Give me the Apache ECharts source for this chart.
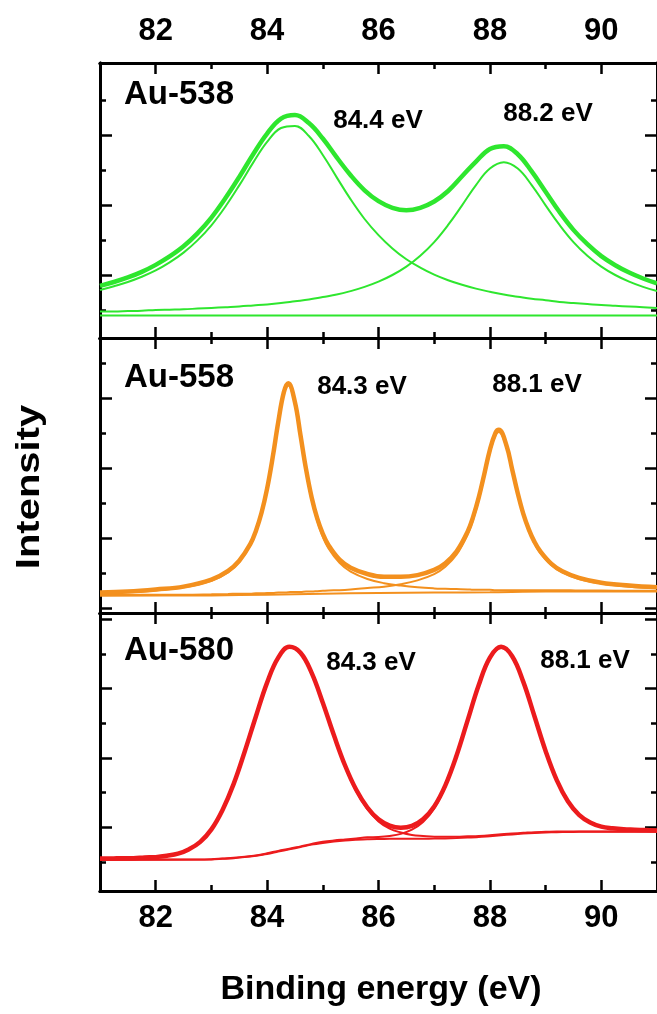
<!DOCTYPE html>
<html><head><meta charset="utf-8">
<script src="https://cdn.jsdelivr.net/npm/echarts@6/dist/echarts.min.js"></script>
<style>html,body{margin:0;padding:0;background:#fff}#c{width:657px;height:1014px}</style>
</head><body><div id="c"></div>
<script>
// ---------- tick values ----------
const xMajorTicks = [82, 84, 86, 88, 90];
const xMinorTicks = [83, 85, 87, 89];
const panelNames = ['Au-538', 'Au-558', 'Au-580'];
const peakLabels = [['84.4 eV', '88.2 eV'], ['84.3 eV', '88.1 eV'], ['84.3 eV', '88.1 eV']];
const yRanges = [[-0.8, 7.057], [-0.143, 7.714], [-0.836, 7.175]];
const yMajorTicks = [[1, 3, 5], [0, 2, 4, 6], [1, 3, 5, 7]];
const yMinorTicks = [[0, 2, 4, 6], [1, 3, 5, 7], [0, 2, 4, 6]];

// ---------- Panel 1 (Au-538) ----------
const p1X = [81,81.25,81.5,81.75,82,82.25,82.5,82.75,83,83.25,83.5,83.75,84,84.25,84.5,84.75,85,85.25,85.5,85.75,86,86.25,86.5,86.75,87,87.25,87.5,87.75,88,88.25,88.5,88.75,89,89.25,89.5,89.75,90,90.25,90.5,90.75,91];
const p1Env = [0.69,0.80,0.93,1.09,1.29,1.53,1.82,2.19,2.64,3.19,3.80,4.45,5.04,5.47,5.57,5.34,4.90,4.36,3.85,3.42,3.11,2.92,2.85,2.92,3.10,3.40,3.82,4.24,4.60,4.68,4.45,3.96,3.38,2.80,2.29,1.88,1.54,1.28,1.07,0.90,0.76];
const p1C1 = [0.57,0.68,0.80,0.95,1.13,1.36,1.64,1.99,2.42,2.95,3.56,4.21,4.80,5.20,5.26,4.97,4.43,3.79,3.16,2.60,2.14,1.76,1.45,1.21,1.01,0.85,0.72,0.61,0.52,0.44,0.38,0.32,0.28,0.23,0.20,0.17,0.14,0.12,0.10,0.08,0.06];
const p1C2 = [-0.04,-0.04,-0.03,-0.02,0.00,0.01,0.02,0.04,0.06,0.08,0.10,0.13,0.16,0.20,0.25,0.30,0.37,0.44,0.54,0.66,0.81,1.00,1.24,1.55,1.94,2.43,2.99,3.57,4.04,4.22,4.04,3.57,2.99,2.43,1.94,1.55,1.24,1.00,0.81,0.66,0.54];
const p1BgX = [81, 91];
const p1Bg = [-0.16, -0.16];

// ---------- Panel 2 (Au-558) ----------
const p2X = [81,81.5,82,82.5,83,83.3,83.5,83.7,83.8,83.9,84,84.1,84.2,84.3,84.38,84.5,84.6,84.7,84.8,84.9,85,85.1,85.3,85.5,85.8,86.1,86.4,86.7,87,87.2,87.4,87.6,87.7,87.8,87.9,88,88.1,88.16,88.3,88.4,88.5,88.6,88.7,88.8,88.9,89.1,89.3,89.6,90,90.5,91];
const p2Env = [0.44,0.47,0.53,0.61,0.81,1.06,1.35,1.83,2.21,2.72,3.41,4.30,5.31,6.16,6.42,5.88,4.93,3.96,3.16,2.56,2.12,1.80,1.38,1.15,0.97,0.89,0.89,0.94,1.09,1.28,1.61,2.18,2.61,3.16,3.83,4.52,5.00,5.09,4.63,3.96,3.28,2.69,2.24,1.89,1.63,1.27,1.05,0.86,0.72,0.64,0.59];
const p2C1 = [0.43,0.45,0.50,0.59,0.78,1.02,1.31,1.79,2.17,2.68,3.37,4.25,5.26,6.11,6.36,5.82,4.87,3.89,3.09,2.49,2.04,1.71,1.29,1.04,0.83,0.71,0.64,0.59,0.56,0.55,0.54,0.53,0.52,0.52,0.52,0.52,0.51,0.51,0.51,0.51,0.51,0.51,0.51,0.51,0.51,0.51,0.51,0.50,0.50,0.49,0.49];
const p2C2 = [0.37,0.37,0.38,0.38,0.39,0.40,0.41,0.41,0.42,0.42,0.43,0.43,0.44,0.44,0.45,0.46,0.46,0.47,0.47,0.48,0.49,0.50,0.51,0.53,0.57,0.61,0.68,0.79,0.97,1.18,1.52,2.10,2.53,3.09,3.76,4.45,4.94,5.03,4.58,3.91,3.23,2.65,2.19,1.85,1.58,1.23,1.02,0.83,0.70,0.61,0.57];
const p2BgX = [81, 83, 84, 85, 86, 87, 88, 89, 91];
const p2Bg = [0.35, 0.36, 0.38, 0.41, 0.43, 0.44, 0.45, 0.47, 0.47];

// ---------- Panel 3 (Au-580) ----------
const p3X = [81,81.2,81.4,81.6,81.8,82,82.2,82.4,82.6,82.8,83,83.2,83.4,83.6,83.8,84,84.2,84.4,84.6,84.8,85,85.2,85.4,85.6,85.8,86,86.2,86.4,86.6,86.8,87,87.2,87.4,87.6,87.8,88,88.2,88.4,88.6,88.8,89,89.2,89.4,89.6,89.8,90,90.2,90.4,90.6,90.8,91];
const p3Env = [0.10,0.10,0.11,0.11,0.13,0.14,0.18,0.24,0.37,0.58,0.94,1.50,2.25,3.19,4.20,5.17,5.89,6.20,6.03,5.45,4.59,3.65,2.78,2.08,1.57,1.23,1.05,0.99,1.04,1.23,1.60,2.21,3.06,4.08,5.10,5.89,6.20,5.93,5.19,4.20,3.20,2.36,1.75,1.36,1.14,1.02,0.97,0.94,0.93,0.92,0.91];
const p3C1 = [0.09,0.10,0.10,0.11,0.12,0.14,0.17,0.24,0.36,0.57,0.93,1.49,2.23,3.17,4.19,5.15,5.88,6.19,6.01,5.42,4.56,3.62,2.74,2.04,1.52,1.17,0.96,0.85,0.78,0.75,0.73,0.73,0.73,0.74,0.75,0.77,0.80,0.82,0.84,0.86,0.87,0.88,0.88,0.88,0.88,0.88,0.88,0.88,0.88,0.88,0.88];
const p3C2 = [0.07,0.07,0.07,0.07,0.07,0.07,0.07,0.07,0.07,0.07,0.08,0.10,0.12,0.15,0.19,0.25,0.32,0.38,0.45,0.52,0.58,0.62,0.65,0.68,0.71,0.72,0.75,0.81,0.93,1.15,1.54,2.17,3.02,4.05,5.07,5.86,6.17,5.91,5.17,4.18,3.18,2.35,1.73,1.35,1.13,1.01,0.96,0.93,0.92,0.91,0.90];
const p3BgX = [81,83,83.2,83.4,83.6,83.8,84,84.2,84.4,84.6,84.8,85,85.2,85.4,85.6,85.8,86,86.2,86.4,86.8,87,87.2,87.4,87.6,87.8,88,88.2,88.4,88.6,88.8,89,89.2,89.4,89.6,89.8,91];
const p3Bg = [0.06,0.07,0.09,0.11,0.14,0.18,0.23,0.30,0.365,0.43,0.50,0.55,0.59,0.62,0.64,0.656,0.663,0.667,0.67,0.672,0.675,0.68,0.69,0.703,0.72,0.745,0.77,0.795,0.818,0.837,0.85,0.86,0.865,0.868,0.87,0.87];

// ---------- build ----------
const FONT = '"Liberation Sans", Arial, Helvetica, sans-serif';
const colors = ['#2ee62e', '#f3901e', '#ec1b1d'];
const grids = [
  { left: 100, top: 63, width: 561, height: 275 },
  { left: 100, top: 338, width: 561, height: 275 },
  { left: 100, top: 613, width: 561, height: 278 }
];
const panels = [
  { x: p1X, env: p1Env, c1: p1C1, c2: p1C2, bgX: p1BgX, bg: p1Bg },
  { x: p2X, env: p2Env, c1: p2C1, c2: p2C2, bgX: p2BgX, bg: p2Bg },
  { x: p3X, env: p3Env, c1: p3C1, c2: p3C2, bgX: p3BgX, bg: p3Bg }
];
const zip = (xs, ys) => xs.map((x, i) => [x, ys[i]]);

const xAxes = [], yAxes = [], series = [];
function xAx(g, pos, major, showLabel, margin) {
  return {
    type: 'value', gridIndex: g, position: pos, min: 81, max: 91,
    axisLine: { show: true, onZero: false, lineStyle: { color: '#000', width: 3 } },
    axisTick: { show: true, inside: true, length: major ? 11 : 6, customValues: major ? xMajorTicks : xMinorTicks,
      lineStyle: { color: '#000', width: 2.5 } },
    axisLabel: { show: showLabel, customValues: xMajorTicks, margin: margin || 8, fontSize: 31, fontWeight: 'bold',
      color: '#000', fontFamily: FONT },
    splitLine: { show: false }
  };
}
function yAx(g, pos, major) {
  return {
    type: 'value', gridIndex: g, position: pos, min: yRanges[g][0], max: yRanges[g][1],
    axisLine: { show: true, onZero: false, lineStyle: { color: '#000', width: 3 } },
    axisTick: { show: true, inside: true, length: major ? 12 : 6, customValues: major ? yMajorTicks[g] : yMinorTicks[g],
      lineStyle: { color: '#000', width: 2.5 } },
    axisLabel: { show: false }, splitLine: { show: false }
  };
}
for (let g = 0; g < 3; g++) {
  xAxes.push(xAx(g, 'bottom', false, false));
  xAxes.push(xAx(g, 'bottom', true, g === 2, 12));
  xAxes.push(xAx(g, 'top', false, false));
  xAxes.push(xAx(g, 'top', true, g === 0, 16));
  yAxes.push(yAx(g, 'left', true));
  yAxes.push(yAx(g, 'left', false));
  yAxes.push(yAx(g, 'right', true));
  yAxes.push(yAx(g, 'right', false));
  const p = panels[g];
  const base = { type: 'line', xAxisIndex: 4 * g, yAxisIndex: 4 * g, showSymbol: false, smooth: 0.4,
    silent: true, animation: false };
  series.push(Object.assign({}, base, { data: zip(p.bgX, p.bg), smooth: 0.3, lineStyle: { color: colors[g], width: 2 } }));
  series.push(Object.assign({}, base, { data: zip(p.x, p.c1), lineStyle: { color: colors[g], width: 2 } }));
  series.push(Object.assign({}, base, { data: zip(p.x, p.c2), lineStyle: { color: colors[g], width: 2 } }));
  series.push(Object.assign({}, base, { data: zip(p.x, p.env), lineStyle: { color: colors[g], width: 4.5 } }));
}

const labelPos = [
  { name: [124, 95], p1: [378, 121], p2: [548, 114] },
  { name: [124, 378], p1: [362, 387], p2: [537, 385] },
  { name: [124, 651], p1: [371, 663], p2: [585, 661] }
];
const graphic = [];
for (let g = 0; g < 3; g++) {
  const lp = labelPos[g];
  graphic.push({ type: 'text', x: lp.name[0], y: lp.name[1], silent: true,
    style: { text: panelNames[g], font: 'bold 33px ' + FONT, fill: '#000', align: 'left', verticalAlign: 'middle' } });
  graphic.push({ type: 'text', x: lp.p1[0], y: lp.p1[1], silent: true,
    style: { text: peakLabels[g][0], font: 'bold 26px ' + FONT, fill: '#000', align: 'center', verticalAlign: 'middle' } });
  graphic.push({ type: 'text', x: lp.p2[0], y: lp.p2[1], silent: true,
    style: { text: peakLabels[g][1], font: 'bold 26px ' + FONT, fill: '#000', align: 'center', verticalAlign: 'middle' } });
}
graphic.push({ type: 'text', x: 381, y: 990, silent: true,
  style: { text: 'Binding energy (eV)', font: 'bold 34px ' + FONT, fill: '#000', align: 'center', verticalAlign: 'middle' } });
graphic.push({ type: 'text', x: 30, y: 487, rotation: Math.PI / 2, scaleY: 0.85, silent: true,
  style: { text: 'Intensity', font: 'bold 40px ' + FONT, fill: '#000', align: 'center', verticalAlign: 'middle' } });

const chart = echarts.init(document.getElementById('c'));
chart.setOption({
  animation: false,
  backgroundColor: '#fff',
  grid: grids,
  xAxis: xAxes,
  yAxis: yAxes,
  series: series,
  graphic: graphic
});
</script>
</body></html>
